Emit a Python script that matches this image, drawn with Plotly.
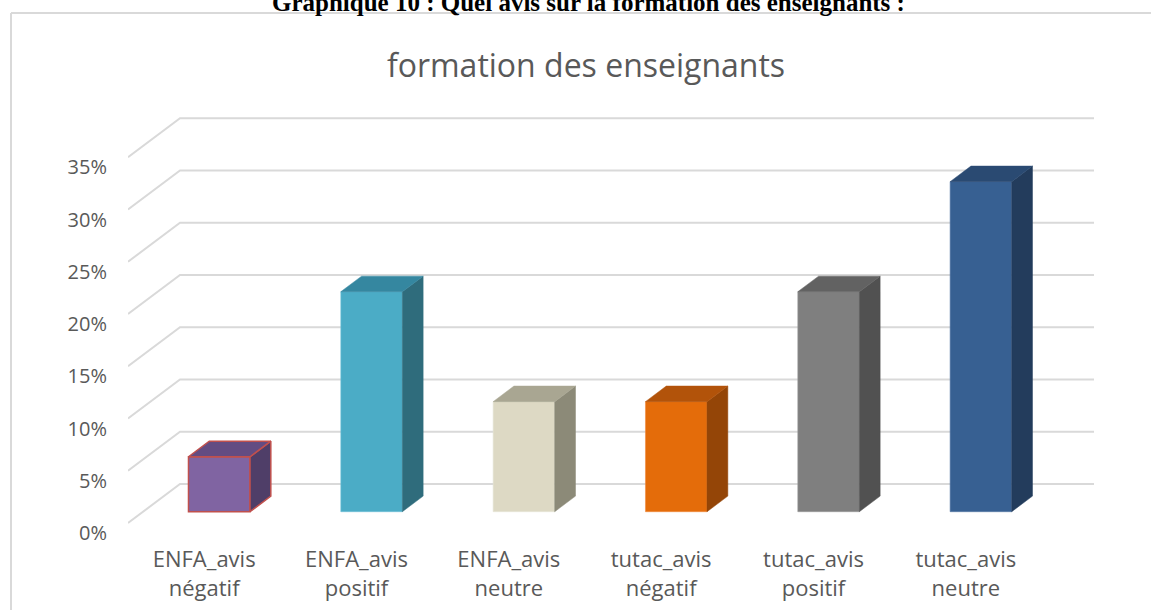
import plotly.graph_objects as go

# ---------------- data ----------------
categories = ["ENFA_avis<br>négatif", "ENFA_avis<br>positif", "ENFA_avis<br>neutre",
              "tutac_avis<br>négatif", "tutac_avis<br>positif", "tutac_avis<br>neutre"]
values = [5.26, 21.05, 10.53, 10.53, 21.05, 31.58]  # percent
y_ticks = [0, 5, 10, 15, 20, 25, 30, 35]
y_tick_labels = ["0%", "5%", "10%", "15%", "20%", "25%", "30%", "35%"]

front_colors = ["#8064A2", "#4BACC6", "#DDD9C4", "#E46C0A", "#7F7F7F", "#376092"]
top_colors = ["#634C82", "#3587A0", "#A9A692", "#B2530A", "#626262", "#2A4A72"]
side_colors = ["#4F3E68", "#2F6C7C", "#8C8A78", "#944507", "#515151", "#233C5C"]
edge_colors = ["#C0504D", "#6EC0D6", "#E8E5D6", "#F08A3C", "#9A9A9A", "#5578A6"]
edge_widths = [1.5, 0.6, 0.6, 0.6, 0.6, 0.6]

# ---------------- geometry / style ----------------
W, H = 1151, 610
ML, MR, MT, MB = 128, 57, 112, 80
DX = 0.3414   # depth of floor, in category units
DY = 3.73     # depth of floor, in % units
Y0 = 0.67     # front edge of the floor (label plane)
T1, T2 = 0.29, 0.69   # depth fraction of bar front / back faces
BW = 0.404            # bar width (category units)
GRID = "#D9D9D9"
TXT = "#595959"
FONT = "Open Sans"

n = len(categories)
XMIN, XMAX = -0.5, n - 0.5 + DX

fig = go.Figure()

shapes = []
# slanted gridlines (behind the bars)
for v in y_ticks:
    shapes.append(dict(type="path", xref="x", yref="y", layer="below",
                       path=f"M {XMIN},{v + Y0} L {XMIN + DX},{v + Y0 + DY} L {XMAX},{v + Y0 + DY}",
                       line=dict(color=GRID, width=2)))


def px_to_paper_x(px):
    return (px - ML) / (W - ML - MR)


def px_to_paper_y(py):
    return (H - MB - py) / (H - MT - MB)


# chart border (top + left, the rest is off-canvas)
shapes.append(dict(type="line", xref="paper", yref="paper",
                   x0=px_to_paper_x(11), x1=px_to_paper_x(11),
                   y0=px_to_paper_y(13), y1=px_to_paper_y(640),
                   line=dict(color=GRID, width=2)))
shapes.append(dict(type="line", xref="paper", yref="paper",
                   x0=px_to_paper_x(11), x1=px_to_paper_x(1180),
                   y0=px_to_paper_y(13), y1=px_to_paper_y(13),
                   line=dict(color=GRID, width=2)))

base = Y0 + T1 * DY
ddx = (T2 - T1) * DX
ddy = (T2 - T1) * DY
xs = [i + T1 * DX for i in range(n)]

# front faces
fig.add_trace(go.Bar(
    x=xs, y=values, base=base, width=BW,
    marker=dict(color=front_colors, line=dict(color=edge_colors, width=edge_widths)),
    customdata=[c.replace("<br>", " ") for c in categories],
    hovertemplate="%{customdata}: %{y:.1f}%<extra></extra>",
    showlegend=False,
))

# side and top faces
for i, v in enumerate(values):
    xl = xs[i] - BW / 2
    xr = xs[i] + BW / 2
    yt = base + v
    line_c = edge_colors[i] if i == 0 else side_colors[i]
    lw = 1.5 if i == 0 else 0.5
    fig.add_trace(go.Scatter(
        x=[xr, xr, xr + ddx, xr + ddx, xr],
        y=[base, yt, yt + ddy, base + ddy, base],
        fill="toself", fillcolor=side_colors[i], mode="lines",
        line=dict(color=line_c, width=lw), hoverinfo="skip", showlegend=False))
    line_c = edge_colors[i] if i == 0 else top_colors[i]
    fig.add_trace(go.Scatter(
        x=[xl, xr, xr + ddx, xl + ddx, xl],
        y=[yt, yt, yt + ddy, yt + ddy, yt],
        fill="toself", fillcolor=top_colors[i], mode="lines",
        line=dict(color=line_c, width=lw), hoverinfo="skip", showlegend=False))

fig.update_layout(
    width=W, height=H,
    margin=dict(l=ML, r=MR, t=MT, b=MB, autoexpand=False),
    paper_bgcolor="white", plot_bgcolor="white",
    shapes=shapes,
    title=dict(text="formation des enseignants", x=586 / W, xanchor="center",
               y=1 - 66 / H, yanchor="middle",
               font=dict(family=FONT, size=32, color=TXT)),
    xaxis=dict(range=[XMIN, XMAX], tickvals=list(range(n)), ticktext=categories,
               showgrid=False, zeroline=False, showline=False, ticks="",
               tickfont=dict(family=FONT, size=22, color=TXT), ticklabelstandoff=14,
               automargin=False, fixedrange=True),
    yaxis=dict(range=[0, 40], tickvals=y_ticks, ticktext=y_tick_labels,
               showgrid=False, zeroline=False, showline=False, ticks="",
               tickfont=dict(family=FONT, size=20, color=TXT), ticklabelstandoff=20,
               ticklabelshift=3, automargin=False, fixedrange=True),
    annotations=[dict(text="<b>Graphique 10 : Quel avis sur la formation des enseignants :</b>",
                      xref="paper", yref="paper", x=px_to_paper_x(588), y=px_to_paper_y(2),
                      xanchor="center", yanchor="middle", showarrow=False,
                      font=dict(family="Liberation Serif", size=25, color="black"))],
)

fig.write_html("out.html", config={"displayModeBar": False},
               post_script="document.body.style.margin='0';")
